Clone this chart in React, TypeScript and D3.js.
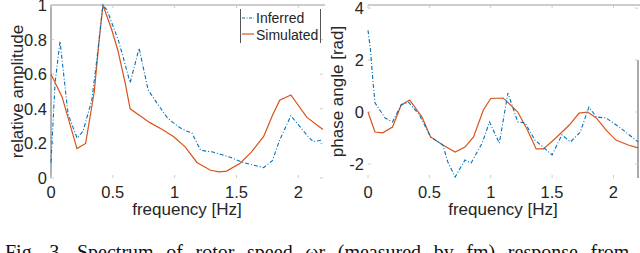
import React, { useEffect, useRef, useState } from 'react';
import * as d3 from 'd3';

// ---- data ----
const ampFreqInferred = [0, 0.033, 0.073, 0.138, 0.211, 0.259, 0.33, 0.37, 0.42, 0.453, 0.543, 0.583, 0.64, 0.713, 0.785, 0.86, 0.939, 0.988, 1.045, 1.1, 1.14, 1.21, 1.31, 1.45, 1.55, 1.72, 1.79, 1.85, 1.94, 2.08, 2.12, 2.2];
const ampInferred = [0.09, 0.55, 0.79, 0.37, 0.23, 0.27, 0.45, 0.68, 1.0, 0.97, 0.8, 0.7, 0.55, 0.75, 0.51, 0.43, 0.35, 0.32, 0.29, 0.27, 0.26, 0.16, 0.15, 0.12, 0.09, 0.06, 0.1, 0.22, 0.36, 0.24, 0.21, 0.22];
const ampFreqSimulated = [0, 0.089, 0.21, 0.28, 0.35, 0.39, 0.42, 0.49, 0.54, 0.6, 0.64, 0.72, 0.8, 0.9, 0.99, 1.085, 1.18, 1.29, 1.36, 1.42, 1.53, 1.62, 1.72, 1.79, 1.85, 1.94, 2.07, 2.2];
const ampSimulated = [0.6, 0.47, 0.17, 0.2, 0.5, 0.8, 1.0, 0.86, 0.74, 0.55, 0.4, 0.36, 0.32, 0.28, 0.24, 0.18, 0.09, 0.045, 0.035, 0.04, 0.085, 0.15, 0.24, 0.36, 0.45, 0.48, 0.35, 0.28];

const phaseFreqInferred = [0, 0.02, 0.04, 0.057, 0.14, 0.2, 0.27, 0.33, 0.42, 0.51, 0.61, 0.65, 0.71, 0.79, 0.84, 0.93, 0.99, 1.07, 1.14, 1.22, 1.28, 1.36, 1.5, 1.58, 1.65, 1.73, 1.8, 1.86, 1.94, 2.06, 2.2];
const phaseInferred = [3.15, 2.4, 1.2, 0.35, -0.23, -0.38, 0.27, 0.38, -0.12, -0.96, -1.27, -1.92, -2.5, -1.85, -1.96, -1.2, -0.38, -1.2, 0.73, -0.38, -0.42, -1.08, -1.65, -0.88, -1.15, -0.77, 0.19, -0.19, -0.23, -0.62, -1.15];
const phaseFreqSimulated = [0, 0.057, 0.12, 0.2, 0.27, 0.34, 0.44, 0.51, 0.61, 0.71, 0.79, 0.86, 0.94, 1.0, 1.1, 1.12, 1.22, 1.3, 1.37, 1.43, 1.53, 1.64, 1.72, 1.79, 1.86, 1.94, 2.02, 2.12, 2.2];
const phaseSimulated = [0.0, -0.77, -0.8, -0.58, 0.27, 0.46, -0.19, -0.96, -1.27, -1.54, -1.35, -0.96, 0.08, 0.52, 0.54, 0.46, 0.0, -0.7, -1.42, -1.42, -1.0, -0.5, -0.04, 0.0, -0.23, -0.7, -1.08, -1.27, -1.38];

const freqTicks = [0, 0.5, 1, 1.5, 2];
const ampTicks = [0, 0.2, 0.4, 0.6, 0.8, 1];
const phaseTicks = [-2, 0, 2, 4];
const seriesNames = ['Inferred', 'Simulated'];
const xLabel = 'frequency [Hz]';
const ampLabel = 'relative amplitude';
const phaseLabel = 'phase angle [rad]';
const caption = 'Fig. 3.  Spectrum of rotor speed \u03c9r (measured by fm) response from';

const BLUE = '#0072BD';
const ORANGE = '#D95319';
const TXT = '#262626';
const FONT = '"Liberation Sans", Arial, Helvetica, sans-serif';
const SERIF = '"Liberation Serif", "Times New Roman", Times, serif';

type Panel = {
  x0: number; x1: number; yDomain: [number, number]; yTicks: number[];
  fi: number[]; vi: number[]; fs: number[]; vs: number[]; ylabel: string; ylabelX: number;
  leftLine: boolean; rightLine: boolean;
};

function PanelView({ p }: { p: Panel }) {
  const top = 5, bottom = 178;
  const x = d3.scaleLinear().domain([0, 2.2]).range([p.x0, p.x1]);
  const y = d3.scaleLinear().domain(p.yDomain).range([bottom, top]);
  const line = d3.line<[number, number]>().x(d => x(d[0])).y(d => y(d[1]));
  const inf = line(p.fi.map((f, i) => [f, p.vi[i]] as [number, number])) || '';
  const sim = line(p.fs.map((f, i) => [f, p.vs[i]] as [number, number])) || '';
  const cx = (p.x0 + p.x1) / 2;
  return (
    <g>
      <line x1={p.x0} x2={p.x1 + 2} y1={top} y2={top} stroke="#9a9a9a" strokeWidth={1} />
      {p.leftLine && <line x1={p.x0} x2={p.x0} y1={top} y2={bottom} stroke="#666" strokeWidth={1} />}
      {p.rightLine && <line x1={p.x1} x2={p.x1} y1={top + 55} y2={bottom} stroke="#555" strokeWidth={1} />}
      {freqTicks.map(t => (
        <g key={'xt' + t}>
          <line x1={x(t)} x2={x(t)} y1={bottom} y2={bottom - 3} stroke="#ccc" />
          <line x1={x(t)} x2={x(t)} y1={top} y2={top + 3} stroke="#ccc" />
          <text x={x(t)} y={198} textAnchor="middle" fontSize={16.5} fill={TXT} fontFamily={FONT}>{String(t)}</text>
        </g>
      ))}
      {p.yTicks.map(t => (
        <g key={'yt' + t}>
          <line x1={p.x0} x2={p.x0 + 3} y1={y(t)} y2={y(t)} stroke="#ccc" />
          <line x1={p.x1} x2={p.x1 - 3} y1={y(t)} y2={y(t)} stroke="#ccc" />
          <text x={p.x0 - 4} y={y(t)} dy="0.36em" textAnchor="end" fontSize={16.5} fill={TXT} fontFamily={FONT}>{String(t)}</text>
        </g>
      ))}
      <path d={sim} fill="none" stroke={ORANGE} strokeWidth={1.2} />
      <path d={inf} fill="none" stroke={BLUE} strokeWidth={1.1} strokeDasharray="4,2,1,2" />
      <text x={cx} y={215} textAnchor="middle" fontSize={17} fill={TXT} fontFamily={FONT}>{xLabel}</text>
      <text transform={`translate(${p.ylabelX},${(top + bottom) / 2}) rotate(-90)`} textAnchor="middle" fontSize={17} fill={TXT} fontFamily={FONT}>{p.ylabel}</text>
    </g>
  );
}

export default function App() {
  const capRef = useRef<SVGTextElement>(null);
  const [wordSpacing, setWordSpacing] = useState(0);
  useEffect(() => {
    const el = capRef.current;
    if (!el) return;
    const natural = el.getComputedTextLength();
    const spaces = (caption.match(/ /g) || []).length;
    const target = 632;
    if (spaces > 0 && natural < target) setWordSpacing((target - natural) / spaces);
  }, []);

  const left: Panel = {
    x0: 51, x1: 323, yDomain: [0, 1], yTicks: ampTicks,
    fi: ampFreqInferred, vi: ampInferred, fs: ampFreqSimulated, vs: ampSimulated,
    ylabel: ampLabel, ylabelX: 23, leftLine: true, rightLine: false,
  };
  const right: Panel = {
    x0: 368, x1: 638, yDomain: [-2.54, 4.12], yTicks: phaseTicks,
    fi: phaseFreqInferred, vi: phaseInferred, fs: phaseFreqSimulated, vs: phaseSimulated,
    ylabel: phaseLabel, ylabelX: 343, leftLine: false, rightLine: true,
  };
  const legendColors = [BLUE, ORANGE];
  return (
    <svg width={640} height={253} style={{ position: 'absolute', left: 0, top: 0, background: '#fff' }}>
      <rect x={0} y={0} width={640} height={253} fill="#fff" />
      <PanelView p={left} />
      <PanelView p={right} />
      <g>
        <rect x={240} y={9} width={80} height={34} fill="#fff" stroke="none" />
        <line x1={240.5} x2={240.5} y1={9} y2={43} stroke="#555" />
        <line x1={320.5} x2={320.5} y1={9} y2={43} stroke="#555" />
        {seriesNames.map((n, i) => (
          <g key={n}>
            <line x1={242} x2={254} y1={18 + i * 16} y2={18 + i * 16} stroke={legendColors[i]} strokeWidth={1.2}
              strokeDasharray={i === 0 ? '3,1.5,1,1.5' : undefined} />
            <text x={256} y={23 + i * 16.5} fontSize={14} fill={TXT} fontFamily={FONT}>{n}</text>
          </g>
        ))}
      </g>
      <text ref={capRef} x={5} y={259} fontSize={20} fill="#111" fontFamily={SERIF}
        style={{ wordSpacing: `${wordSpacing}px` }}>{caption}</text>
    </svg>
  );
}
